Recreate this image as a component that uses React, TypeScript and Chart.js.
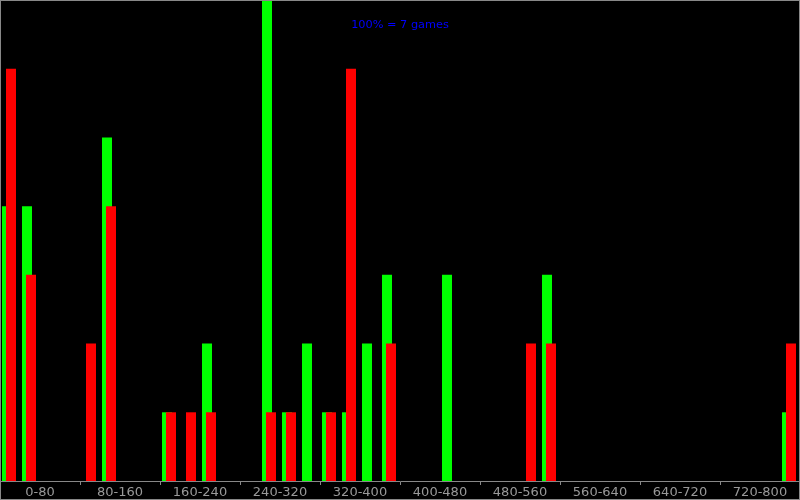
import React, { useEffect, useRef } from 'react';
import { Chart, registerables } from 'chart.js';

Chart.register(...registerables);

// Bin midpoints (20-unit bins from 0 to 800)
const BIN_MIDS = [
  10, 30, 50, 70, 90, 110, 130, 150, 170, 190,
  210, 230, 250, 270, 290, 310, 330, 350, 370, 390,
  410, 430, 450, 470, 490, 510, 530, 550, 570, 590,
  610, 630, 650, 670, 690, 710, 730, 750, 770, 790,
];

// Games per bin
const GREEN_GAMES = [
  4, 4, 0, 0, 0, 5, 0, 0, 1, 0,
  2, 0, 0, 7, 1, 2, 1, 1, 2, 3,
  0, 0, 3, 0, 0, 0, 0, 3, 0, 0,
  0, 0, 0, 0, 0, 0, 0, 0, 0, 1,
];
const RED_GAMES = [
  6, 3, 0, 0, 2, 4, 0, 0, 1, 1,
  1, 0, 0, 1, 1, 0, 1, 6, 0, 2,
  0, 0, 0, 0, 0, 0, 2, 2, 0, 0,
  0, 0, 0, 0, 0, 0, 0, 0, 0, 2,
];

const RANGE_LABELS = [
  '0-80', '80-160', '160-240', '240-320', '320-400',
  '400-480', '480-560', '560-640', '640-720', '720-800',
];

const TITLE = '100% = 7 games';
const FULL_SCALE = 7;
const X_MAX = 800;

const LINE_GRAY = '#888888';
const TEXT_GRAY = '#999999';

const decorPlugin = {
  id: 'decor',
  beforeDraw(chart: any) {
    const ctx = chart.ctx;
    ctx.save();
    ctx.fillStyle = '#000000';
    ctx.fillRect(0, 0, chart.width, chart.height);
    ctx.restore();
  },
  afterDraw(chart: any) {
    const ctx = chart.ctx;
    ctx.save();
    ctx.font = '11.3px "DejaVu Sans"';
    ctx.fillStyle = '#0000ff';
    ctx.textAlign = 'center';
    ctx.textBaseline = 'middle';
    ctx.fillText(TITLE, chart.width / 2, 25);
    ctx.strokeStyle = LINE_GRAY;
    ctx.lineWidth = 1;
    ctx.strokeRect(0.5, 0.5, chart.width - 1, chart.height - 1);
    ctx.restore();
  },
};

const hiddenX = (min: number, max: number) => ({
  type: 'linear',
  axis: 'x',
  position: 'bottom',
  display: false,
  offset: false,
  grid: { offset: false },
  min,
  max,
});

export default function App() {
  const canvasRef = useRef<HTMLCanvasElement | null>(null);

  useEffect(() => {
    if (!canvasRef.current) return;
    const chart = new Chart(canvasRef.current, {
      type: 'bar',
      data: {
        datasets: [
          {
            label: 'green',
            data: BIN_MIDS.map((x, i) => ({ x, y: GREEN_GAMES[i] })),
            backgroundColor: '#00ff00',
            borderWidth: 0,
            inflateAmount: 0,
            grouped: false,
            barThickness: 10,
            order: 2,
            xAxisID: 'xg',
            yAxisID: 'y',
          },
          {
            label: 'red',
            data: BIN_MIDS.map((x, i) => ({ x, y: RED_GAMES[i] })),
            backgroundColor: '#ff0000',
            borderWidth: 0,
            inflateAmount: 0,
            grouped: false,
            barThickness: 10,
            order: 1,
            xAxisID: 'xr',
            yAxisID: 'y',
          },
        ],
      },
      options: {
        responsive: false,
        animation: false,
        events: [],
        layout: { padding: 0 },
        plugins: {
          legend: { display: false },
          title: { display: false },
          tooltip: { enabled: false },
        },
        scales: {
          xg: hiddenX(3, X_MAX + 3),
          xr: hiddenX(-1, X_MAX - 1),
          xl: {
            type: 'linear',
            axis: 'x',
            position: 'bottom',
            offset: false,
            min: 0,
            max: X_MAX,
            border: { display: true, color: LINE_GRAY, width: 1 },
            grid: {
              offset: false,
              drawOnChartArea: false,
              drawTicks: true,
              tickLength: 4,
              color: LINE_GRAY,
              tickColor: (c: any) =>
                c.tick && c.tick.value % 80 === 0 ? LINE_GRAY : 'rgba(0,0,0,0)',
            },
            ticks: {
              stepSize: 40,
              autoSkip: false,
              maxRotation: 0,
              minRotation: 0,
              padding: -2,
              color: TEXT_GRAY,
              font: { family: '"DejaVu Sans"', size: 13, lineHeight: '19px' },
              callback: (v: any) => {
                const n = Number(v);
                return n % 80 === 40 ? RANGE_LABELS[(n - 40) / 80] : '';
              },
            },
          },
          y: {
            type: 'linear',
            display: false,
            min: 0,
            max: FULL_SCALE,
          },
        },
      },
      plugins: [decorPlugin],
    } as any);
    return () => chart.destroy();
  }, []);

  return (
    <div style={{ position: 'fixed', left: 0, top: 0, width: 800, height: 500, background: '#000' }}>
      <canvas ref={canvasRef} width={800} height={500} style={{ display: 'block' }} />
    </div>
  );
}
